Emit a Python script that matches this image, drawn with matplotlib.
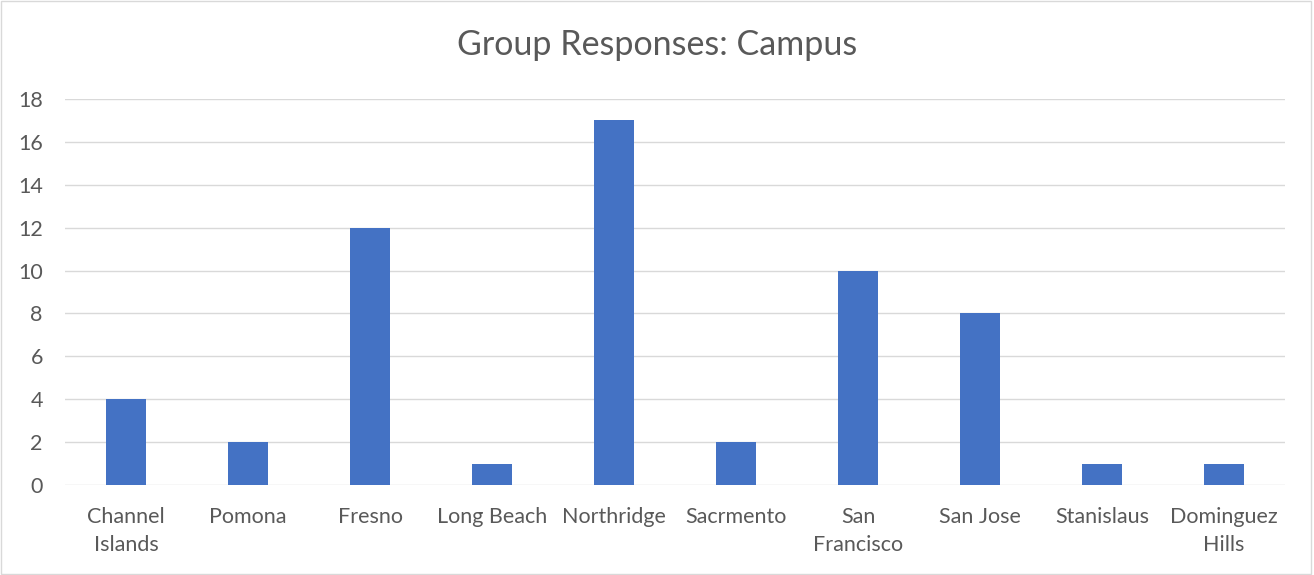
import matplotlib
matplotlib.use("Agg")
import matplotlib.pyplot as plt
from matplotlib.patches import Rectangle

# data
campuses = ["Channel\nIslands", "Pomona", "Fresno", "Long Beach", "Northridge",
            "Sacrmento", "San\nFrancisco", "San Jose", "Stanislaus", "Dominguez\nHills"]
responses = [4, 2, 12, 1, 17, 2, 10, 8, 1, 1]
yticks = [0, 2, 4, 6, 8, 10, 12, 14, 16, 18]

plt.rcParams['font.family'] = ['Lato', 'DejaVu Sans']

fig = plt.figure(figsize=(13.14, 5.75), dpi=100)
ax = fig.add_axes([65/1314, 90/575, 1220/1314, 386/575])

x = range(len(campuses))
ax.bar(x, responses, width=0.32, color='#4472C4', zorder=3)

ax.set_xlim(-0.5, len(campuses) - 0.5)
ax.set_ylim(0, 18)
ax.set_yticks(yticks)
ax.set_xticks(list(x))
ax.set_xticklabels(campuses, fontsize=15.5, color='#595959', linespacing=1.5)
ax.tick_params(axis='y', labelsize=15.5, labelcolor='#595959', length=0, pad=16)
ax.tick_params(axis='x', length=0, pad=16)
ax.grid(axis='y', color='#D9D9D9', linewidth=1, zorder=0)
for s in ax.spines.values():
    s.set_visible(False)

fig.text(0.5, 1 - 45/575, "Group Responses: Campus", ha='center', va='center',
         fontsize=24.5, color='#595959')

# light border around the chart
fig.patches.append(Rectangle((0.001, 0.002), 0.997, 0.996, transform=fig.transFigure,
                             fill=False, edgecolor='#D9D9D9', linewidth=1))

fig.savefig("out.png", dpi=100)
